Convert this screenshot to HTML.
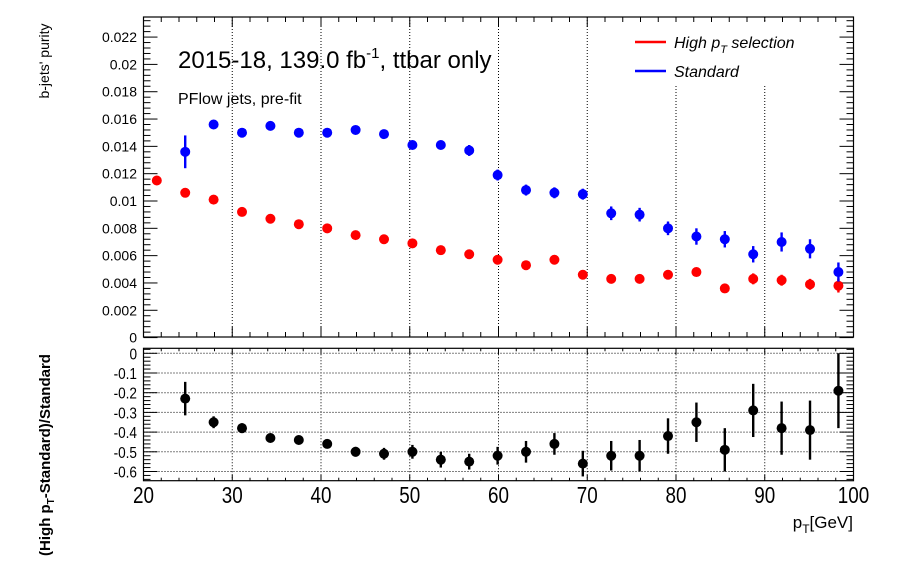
<!DOCTYPE html>
<html><head><meta charset="utf-8"><style>
html,body{margin:0;padding:0;background:#fff;}
svg{display:block;font-family:"Liberation Sans",Arial,sans-serif;}
</style></head><body>
<svg id="chart" width="898" height="574" viewBox="0 0 898 574" xmlns="http://www.w3.org/2000/svg">
<rect width="898" height="574" fill="#fff"/>
<g id="grid"></g>
<g id="axes"></g>
<g id="marks"></g>
<text transform="translate(49,61) rotate(-90)" text-anchor="middle" font-size="14">b-jets' purity</text>
<text transform="translate(50,455) rotate(-90)" text-anchor="middle" font-size="15" font-weight="bold">(High p<tspan font-size="10" dy="4">T</tspan><tspan dy="-4">-Standard)/Standard</tspan></text>
<text x="853" y="528" text-anchor="end" font-size="17">p<tspan font-size="12" dy="5">T</tspan><tspan dy="-5">[GeV]</tspan></text>
<text x="178" y="68" font-size="24">2015-18, 139.0 fb<tspan font-size="15" dy="-10">-1</tspan><tspan dy="10">, ttbar only</tspan></text>
<text x="178" y="104" font-size="16">PFlow jets, pre-fit</text>
<g>
<rect x="620" y="22" width="200" height="62" fill="#fff"/>
<line x1="635" y1="42" x2="666" y2="42" stroke="#ff0000" stroke-width="2.5"/>
<text x="674" y="48" font-size="16" font-style="italic">High p<tspan font-size="11" dy="5">T</tspan><tspan dy="-5"> selection</tspan></text>
<line x1="635" y1="71" x2="666" y2="71" stroke="#0000ff" stroke-width="2.5"/>
<text x="674" y="77" font-size="16" font-style="italic">Standard</text>
</g>
</svg>
<script>
const xStart = 21.5, xStep = 3.2;
const redVals = [0.0115,0.0106,0.0101,0.0092,0.0087,0.0083,0.0080,0.0075,0.0072,0.0069,0.0064,0.0061,0.0057,0.0053,0.0057,0.0046,0.0043,0.0043,0.0046,0.0048,0.0036,0.0043,0.0042,0.0039,0.0038];
const redErrs = [0.0002,0.0002,0.0002,0.0002,0.0002,0.0002,0.0002,0.0002,0.0002,0.0002,0.0002,0.0002,0.0002,0.0002,0.0002,0.0002,0.0002,0.0002,0.0003,0.0003,0.0003,0.0004,0.0004,0.0004,0.0005];
const blueVals = [null,0.0136,0.0156,0.0150,0.0155,0.0150,0.0150,0.0152,0.0149,0.0141,0.0141,0.0137,0.0119,0.0108,0.0106,0.0105,0.0091,0.0090,0.0080,0.0074,0.0072,0.0061,0.0070,0.0065,0.0048];
const blueErrs = [0,0.0012,0.0003,0.0002,0.0002,0.0002,0.0002,0.0002,0.0002,0.0003,0.0003,0.0004,0.0004,0.0004,0.0004,0.0004,0.0005,0.0005,0.0005,0.0006,0.0006,0.0006,0.0007,0.0007,0.0007];
const ratioVals = [null,-0.23,-0.35,-0.38,-0.43,-0.44,-0.46,-0.50,-0.51,-0.50,-0.54,-0.55,-0.52,-0.50,-0.46,-0.56,-0.52,-0.52,-0.42,-0.35,-0.49,-0.29,-0.38,-0.39,-0.19];
const ratioErrs = [0,0.085,0.03,0.025,0.02,0.02,0.02,0.025,0.03,0.035,0.04,0.04,0.045,0.055,0.055,0.065,0.075,0.08,0.09,0.1,0.11,0.135,0.135,0.15,0.19];
const xTickLabels = ["20","30","40","50","60","70","80","90","100"];
const yTopTickLabels = ["0","0.002","0.004","0.006","0.008","0.01","0.012","0.014","0.016","0.018","0.02","0.022"];
const yBotTickLabels = ["-0.6","-0.5","-0.4","-0.3","-0.2","-0.1","0"];

const NS="http://www.w3.org/2000/svg";
const L=143.5,R=853.5,T1=17,B1=337,T2=348.3,B2=480.7;
const X=v=>L+(v-20)*(R-L)/80;
const Y1=v=>337.6-v*13660;
const Y2=v=>353.3-v*197;
function mk(tag,attrs,parent){const e=document.createElementNS(NS,tag);for(const k in attrs)e.setAttribute(k,attrs[k]);parent.appendChild(e);return e;}
const grid=document.getElementById('grid'),axes=document.getElementById('axes'),marks=document.getElementById('marks');

for(let v=30;v<100;v+=10){
  let g=mk('line',{x1:X(v),x2:X(v),y1:T1,y2:B1,stroke:'#000','stroke-width':1,'stroke-dasharray':'1,2'},grid);
  
  
  let g2=mk('line',{x1:X(v),x2:X(v),y1:T2,y2:B2,stroke:'#000','stroke-width':1,'stroke-dasharray':'1,2'},grid);
  
  
}
yBotTickLabels.forEach(s=>{const v=parseFloat(s);
  let g=mk('line',{x1:L,x2:R,y1:Y2(v),y2:Y2(v),stroke:'#000','stroke-width':1,'stroke-dasharray':'1,2'},grid);
  
  
});

[[T1,B1],[T2,B2]].forEach(([t,b])=>{
  let f=mk('rect',{x:L,y:t,width:R-L,height:b-t,fill:'none',stroke:'#000','stroke-width':1.2},axes);
  
  
});
for(let v=20;v<=100;v+=2){
  const maj=v%10===0;
  [[T1,B1],[T2,B2]].forEach(([t,b])=>{
    const len=maj?(b-t>200?10:6):(b-t>200?5:3);
    mk('line',{x1:X(v),x2:X(v),y1:b,y2:b-len,stroke:'#000'},axes);
    mk('line',{x1:X(v),x2:X(v),y1:t,y2:t+len,stroke:'#000'},axes);
  });
}
xTickLabels.forEach(s=>{const v=parseFloat(s);
  const t=mk('text',{x:X(v),y:503,'text-anchor':'middle','font-size':23,transform:`translate(${X(v)},0) scale(0.82,1) translate(${-X(v)},0)`},axes);
  t.textContent=s;
  
  
});
for(let i=0;i<=58;i++){const v=i*0.0004;const y=Y1(v);if(y<T1)break;
  const maj=i%5===0;const len=maj?14:7;
  mk('line',{x1:L,x2:L+len,y1:y,y2:y,stroke:'#000'},axes);
  mk('line',{x1:R,x2:R-len,y1:y,y2:y,stroke:'#000'},axes);
}
yTopTickLabels.forEach(s=>{const v=parseFloat(s);
  const t=mk('text',{x:137,y:Y1(v)+5,'text-anchor':'end','font-size':14},axes);
  t.textContent=s;
  
  
});
for(let i=-32;i<=1;i++){const v=i*0.02;const y=Y2(v);if(y>B2||y<T2)continue;
  const maj=i%5===0;const len=maj?14:7;
  mk('line',{x1:L,x2:L+len,y1:y,y2:y,stroke:'#000'},axes);
  mk('line',{x1:R,x2:R-len,y1:y,y2:y,stroke:'#000'},axes);
}
yBotTickLabels.forEach(s=>{const v=parseFloat(s);
  const t=mk('text',{x:137,y:Y2(v)+6,'text-anchor':'end','font-size':16,transform:`translate(137,0) scale(0.85,1) translate(-137,0)`},axes);
  t.textContent=s;
  
  
});

function series(vals,errs,Y,color,name){
  vals.forEach((v,i)=>{if(v===null)return;
    const x=X(xStart+i*xStep);
    const g=mk('g',{},marks);
    
    
    mk('line',{x1:x,x2:x,y1:Y(v+errs[i]),y2:Y(v-errs[i]),stroke:color,'stroke-width':2.4},g);
    mk('circle',{cx:x,cy:Y(v),r:5,fill:color},g);
  });
}
series(redVals,redErrs,Y1,'#ff0000','high-pt');
series(blueVals,blueErrs,Y1,'#0000ff','standard');
series(ratioVals,ratioErrs,Y2,'#000000','ratio');
</script>
</body></html>
